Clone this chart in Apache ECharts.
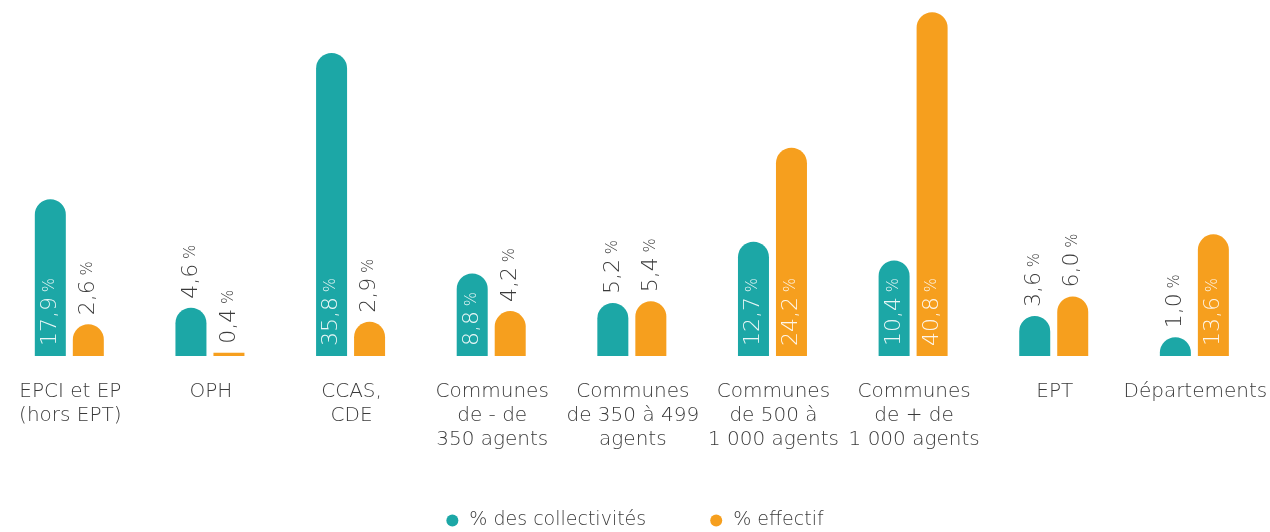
<!DOCTYPE html>
<html>
<head>
<meta charset="utf-8">
<script src="https://cdn.jsdelivr.net/npm/echarts@6/dist/echarts.min.js"></script>
<style>
  html, body { margin: 0; padding: 0; background: #fff; }
  #chart { width: 1270px; height: 532px; }
</style>
</head>
<body>
<div id="chart"></div>
<script>
const categories = [
  'EPCI et EP\n(hors EPT)',
  'OPH',
  'CCAS,\nCDE',
  'Communes\nde - de\n350 agents',
  'Communes\nde 350 à 499\nagents',
  'Communes\nde 500 à\n1 000 agents',
  'Communes\nde + de\n1 000 agents',
  'EPT',
  'Départements'
]
const collectivites = [17.9, 4.6, 35.8, 8.8, 5.2, 12.7, 10.4, 3.6, 1.0]
const effectif = [2.6, 0.4, 2.9, 4.2, 5.4, 24.2, 40.8, 6.0, 13.6]

const TEAL = '#1ca7a6'
const ORANGE = '#f69f1e'
const FONT = 'DejaVu Sans'
const LIGHT = 200
const TEXT = '#3a3a3a'

// the source drawing puts the rounded cap on top of the value height,
// so bars grow from a little below zero (axis min)
const AXIS_MIN = -1.3
const AXIS_MAX = 42.3
const BAR_W = 31
const BAR_GAP = 7

const fmt = (v) => '{v|' + v.toFixed(1).replace('.', ',') + '}{p| %}'

function richFor(color) {
  return {
    v: { fontSize: 22, fill: color, fontFamily: FONT, fontWeight: LIGHT },
    p: { fontSize: 15, fill: color, fontFamily: FONT, fontWeight: LIGHT },
  }
}

function makeSeries(name, values, color, side) {
  return {
    name,
    type: 'custom',
    itemStyle: { color },
    encode: { x: 0, y: 1 },
    data: values.map((v, i) => [i, v]),
    renderItem(params, api) {
      const idx = api.value(0)
      const v = api.value(1)
      const top = api.coord([idx, v])
      // tiny values (< 0,5) are drawn as a flat strip on the zero line, no cap
      const base = api.coord([idx, v < 0.5 ? 0 : AXIS_MIN])
      const floor = api.coord([idx, AXIS_MIN])
      const cx = top[0] + side * (BAR_W + BAR_GAP) / 2 - 1
      const h = Math.max(base[1] - top[1], 3)
      const r = v < 0.5 ? 0 : Math.min(BAR_W / 2, h)
      const inside = v >= 8
      return {
        type: 'rect',
        shape: { x: cx - BAR_W / 2, y: floor[1] - h, width: BAR_W, height: h, r: [r, r, 0, 0] },
        style: { fill: color },
        textContent: {
          style: {
            text: fmt(v),
            rich: richFor(inside ? 'rgba(255,255,255,0.9)' : TEXT),
            align: 'left',
            verticalAlign: 'middle',
          },
        },
        textConfig: {
          position: inside ? 'insideBottom' : 'top',
          distance: inside ? 10 : 9,
          rotation: Math.PI / 2,
        },
      }
    },
  }
}

const chart = echarts.init(document.getElementById('chart'), null, { renderer: 'canvas' })
chart.setOption({
  animation: false,
  textStyle: { fontFamily: FONT },
  grid: { left: -2, right: 2, top: 0, bottom: 176, containLabel: false },
  legend: {
    bottom: -3,
    left: 'center',
    icon: 'circle',
    itemWidth: 12,
    itemHeight: 12,
    itemGap: 64,
    textStyle: {
      fontSize: 19,
      color: TEXT,
      fontFamily: FONT,
      fontWeight: LIGHT,
      padding: [0, 0, 0, 6],
    },
  },
  xAxis: {
    type: 'category',
    data: categories,
    axisLine: { show: false, onZero: false },
    axisTick: { show: false },
    axisLabel: {
      interval: 0,
      margin: 24,
      fontSize: 20,
      lineHeight: 24,
      color: TEXT,
      fontFamily: FONT,
      fontWeight: LIGHT,
    },
  },
  yAxis: {
    type: 'value',
    min: AXIS_MIN,
    max: AXIS_MAX,
    show: false,
    splitLine: { show: false },
  },
  series: [
    makeSeries('% des collectivités', collectivites, TEAL, -1),
    makeSeries('% effectif', effectif, ORANGE, 1),
  ],
})
</script>
</body>
</html>
